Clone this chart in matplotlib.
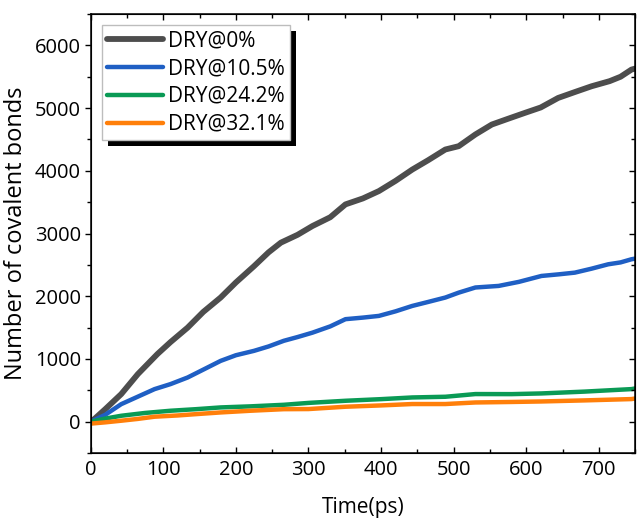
import matplotlib
matplotlib.use("Agg")
import matplotlib.pyplot as plt
from matplotlib.patches import Rectangle
from matplotlib.ticker import MultipleLocator

plt.rcParams['font.family'] = ['Open Sans', 'DejaVu Sans']

# bond counts read along each run (time in ps)
t_dry0 = [0, 5.5, 20, 42, 65, 92, 110, 133.5, 155, 179, 200, 225, 245, 262,
          285, 305.5, 330, 351, 375, 397, 420, 443, 465, 488.6, 507, 530,
          552.6, 575, 598, 620, 644, 668, 690, 715, 730, 745, 750]
v_dry0 = [0, 48, 200, 440, 760, 1080, 1270, 1500, 1750, 1980, 2220, 2480,
          2700, 2855, 2980, 3120, 3260, 3465, 3560, 3677, 3840, 4020, 4170,
          4340, 4393, 4580, 4738, 4830, 4923, 5010, 5162, 5260, 5348, 5430,
          5500, 5614, 5630]

t_dry10 = [0, 20, 42, 65, 88, 110, 133.5, 155, 179, 200, 225, 245, 266,
           285, 305.5, 330, 351, 375, 397, 420, 443, 465, 488.6, 507, 530,
           562, 590, 621, 645, 667, 690, 713, 730, 745, 750]
v_dry10 = [0, 110, 280, 400, 520, 600, 705, 830, 970, 1060, 1130, 1200,
           1290, 1350, 1420, 1520, 1635, 1660, 1687, 1760, 1846, 1910, 1980,
           2058, 2140, 2165, 2230, 2324, 2350, 2377, 2440, 2510, 2540, 2590,
           2600]

t_dry24 = [0, 20, 42, 75, 110, 145, 179, 220, 266, 300, 351, 400, 443,
           488.6, 530, 580, 621, 680, 745, 750]
v_dry24 = [0, 50, 95, 140, 175, 200, 228, 245, 270, 300, 334, 360, 387,
           398, 441, 440, 451, 480, 520, 530]

t_dry32 = [0, 20, 42, 65, 88, 120, 150, 179, 220, 266, 300, 351, 400,
           443, 488.6, 530, 580, 621, 680, 745, 750]
v_dry32 = [-30, -10, 16, 45, 80, 100, 125, 148, 175, 200, 202, 239, 260,
           282, 282, 307, 315, 323, 340, 361, 370]

labels = ['DRY@0%', 'DRY@10.5%', 'DRY@24.2%', 'DRY@32.1%']
colors = ['#4d4d4d', '#1f5fc4', '#0a9a55', '#ff7f0a']

fig = plt.figure(figsize=(6.37, 5.19), dpi=100)
ax = fig.add_axes([0.1424, 0.127, 0.8546, 0.846])

series = [(t_dry0, v_dry0), (t_dry10, v_dry10), (t_dry24, v_dry24), (t_dry32, v_dry32)]
widths = [4.2, 3.2, 3.2, 3.2]
for (t, v), lab, c, lw in zip(series, labels, colors, widths):
    ax.plot(t, v, color=c, lw=lw, label=lab, solid_capstyle='round')

ax.set_xlim(0, 750)
ax.set_ylim(-500, 6500)
ax.xaxis.set_major_locator(MultipleLocator(100))
ax.xaxis.set_minor_locator(MultipleLocator(50))
ax.yaxis.set_major_locator(MultipleLocator(1000))
ax.yaxis.set_minor_locator(MultipleLocator(500))
ax.set_xticks([0, 100, 200, 300, 400, 500, 600, 700])
ax.set_yticks([0, 1000, 2000, 3000, 4000, 5000, 6000])

ax.tick_params(axis='x', which='both', direction='in', top=True, labelsize=14.5, pad=5)
ax.tick_params(axis='y', which='both', direction='out', labelsize=14.5, pad=3)
ax.tick_params(which='major', length=4, width=1)
ax.tick_params(which='minor', length=3, width=1)
for sp in ax.spines.values():
    sp.set_linewidth(1.1)

# inward ticks on the right spine
ax_r = ax.twinx()
ax_r.set_ylim(ax.get_ylim())
ax_r.yaxis.set_major_locator(MultipleLocator(1000))
ax_r.yaxis.set_minor_locator(MultipleLocator(500))
ax_r.tick_params(axis='y', which='both', direction='in', labelright=False)
ax_r.tick_params(which='major', length=4, width=1)
ax_r.tick_params(which='minor', length=3, width=1)

ax.set_xlabel('Time(ps)', fontsize=15, labelpad=12)
ax.set_ylabel('Number of covalent bonds', fontsize=17, labelpad=5)

leg = ax_r.legend(*ax.get_legend_handles_labels(), loc='upper left',
                  bbox_to_anchor=(0.02, 0.975), fontsize=15, frameon=True,
                  fancybox=False, edgecolor='#bdbdbd', framealpha=1,
                  handlelength=2.7, handletextpad=0.25, labelspacing=0.33,
                  borderpad=0.25, borderaxespad=0)
leg.get_frame().set_linewidth(1.0)

fig.canvas.draw()
bb = leg.get_frame().get_window_extent()
inv = ax_r.transAxes.inverted()
(x0, y0), (x1, y1) = inv.transform([(bb.x0 + 6, bb.y0 - 6), (bb.x1 + 6, bb.y1 - 6)])
shadow = Rectangle((x0, y0), x1 - x0, y1 - y0, transform=ax_r.transAxes,
                   facecolor='black', edgecolor='none', clip_on=False,
                   zorder=leg.get_zorder() - 0.1)
ax_r.add_patch(shadow)

fig.savefig('out.png', dpi=100)
